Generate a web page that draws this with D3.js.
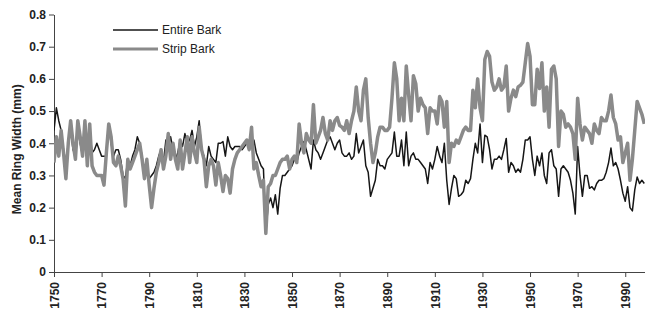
<!DOCTYPE html>
<html>
<head>
<meta charset="utf-8">
<script src="https://cdn.jsdelivr.net/npm/d3@7"></script>
<style>
  html, body { margin: 0; padding: 0; background: #fff; }
  svg { display: block; }
</style>
</head>
<body>
<svg id="chart" width="645" height="314"></svg>
<script>
// ---- Data ----
const startYear = 1750;
const xTickYears = [1750, 1770, 1790, 1810, 1830, 1850, 1870, 1890, 1910, 1930, 1950, 1970, 1990];
const yTickValues = [0, 0.1, 0.2, 0.3, 0.4, 0.5, 0.6, 0.7, 0.8];
const seriesNames = ["Entire Bark", "Strip Bark"];

// Entire Bark, yearly 1750-1998
const entireBark = [
  0.44, 0.51, 0.47, 0.44, 0.38, 0.34, 0.40, 0.44, 0.38, 0.36,
  0.44, 0.40, 0.36, 0.44, 0.36, 0.44, 0.37, 0.38, 0.40, 0.38,
  0.36, 0.36, 0.36, 0.45, 0.40, 0.36, 0.38, 0.38, 0.35, 0.30,
  0.29, 0.35, 0.33, 0.36, 0.38, 0.42, 0.40, 0.36, 0.30, 0.33,
  0.29, 0.30, 0.31, 0.33, 0.36, 0.38, 0.34, 0.41, 0.39, 0.42,
  0.38, 0.35, 0.37, 0.41, 0.39, 0.43, 0.40, 0.41, 0.44, 0.39,
  0.42, 0.47, 0.38, 0.36, 0.33, 0.39, 0.36, 0.35, 0.34, 0.40,
  0.40, 0.405, 0.36, 0.42, 0.39, 0.38, 0.39, 0.39, 0.39, 0.38,
  0.39, 0.40, 0.39, 0.41, 0.41, 0.37, 0.35, 0.33, 0.32, 0.12,
  0.21, 0.23, 0.20, 0.24, 0.18, 0.26, 0.30, 0.30, 0.31, 0.32,
  0.33, 0.35, 0.34, 0.37, 0.39, 0.405, 0.38, 0.35, 0.32, 0.41,
  0.38, 0.37, 0.35, 0.37, 0.39, 0.41, 0.42, 0.40, 0.38, 0.40,
  0.41, 0.37, 0.36, 0.36, 0.37, 0.35, 0.36, 0.43, 0.37, 0.39,
  0.41, 0.33, 0.31, 0.235, 0.26, 0.285, 0.35, 0.33, 0.33, 0.32,
  0.35, 0.36, 0.37, 0.435, 0.36, 0.36, 0.41, 0.33, 0.435, 0.33,
  0.36, 0.37, 0.35, 0.35, 0.34, 0.33, 0.32, 0.275, 0.34, 0.32,
  0.35, 0.39, 0.36, 0.34, 0.40, 0.285, 0.21, 0.26, 0.30, 0.29,
  0.235, 0.24, 0.25, 0.285, 0.275, 0.29, 0.35, 0.40, 0.37, 0.46,
  0.34, 0.425, 0.42, 0.38, 0.32, 0.35, 0.35, 0.36, 0.35, 0.38,
  0.415, 0.31, 0.34, 0.33, 0.31, 0.32, 0.31, 0.35, 0.41, 0.41,
  0.42, 0.35, 0.30, 0.36, 0.33, 0.37, 0.30, 0.275, 0.37, 0.38,
  0.33, 0.32, 0.235, 0.32, 0.33, 0.32, 0.31, 0.285, 0.245, 0.18,
  0.39, 0.30, 0.235, 0.30, 0.30, 0.26, 0.265, 0.255, 0.275, 0.285,
  0.285, 0.29, 0.31, 0.34, 0.385, 0.33, 0.34, 0.32, 0.285, 0.245,
  0.22, 0.265, 0.20, 0.19, 0.255, 0.295, 0.275, 0.285, 0.275
];

// Strip Bark, yearly 1750-1998
const stripBark = [
  0.34, 0.42, 0.36, 0.44, 0.37, 0.29, 0.40, 0.47, 0.40, 0.35,
  0.47, 0.42, 0.36, 0.47, 0.33, 0.46, 0.33, 0.31, 0.30, 0.30,
  0.30, 0.27, 0.37, 0.46, 0.42, 0.34, 0.33, 0.36, 0.33, 0.29,
  0.205, 0.35, 0.32, 0.34, 0.36, 0.38, 0.40, 0.35, 0.29, 0.35,
  0.27, 0.20, 0.26, 0.31, 0.34, 0.38, 0.32, 0.36, 0.43, 0.35,
  0.40, 0.35, 0.32, 0.41, 0.32, 0.37, 0.42, 0.34, 0.42, 0.37,
  0.34, 0.45, 0.38, 0.35, 0.265, 0.33, 0.35, 0.33, 0.27, 0.34,
  0.30, 0.25, 0.30, 0.29, 0.245, 0.32, 0.35, 0.37, 0.38, 0.39,
  0.40, 0.41, 0.38, 0.45, 0.32, 0.34, 0.30, 0.265, 0.285, 0.12,
  0.265, 0.275, 0.30, 0.30, 0.32, 0.34, 0.35, 0.35, 0.36, 0.32,
  0.35, 0.36, 0.34, 0.46, 0.40, 0.37, 0.43, 0.41, 0.40, 0.52,
  0.40, 0.42, 0.44, 0.48, 0.43, 0.41, 0.47, 0.44, 0.47, 0.48,
  0.455, 0.45, 0.44, 0.47, 0.43, 0.47, 0.50, 0.575, 0.50, 0.47,
  0.565, 0.60, 0.48, 0.40, 0.34, 0.37, 0.42, 0.45, 0.45, 0.44,
  0.44, 0.45, 0.54, 0.65, 0.60, 0.47, 0.54, 0.47, 0.64, 0.55,
  0.47, 0.61, 0.585, 0.50, 0.54, 0.52, 0.51, 0.43, 0.51, 0.50,
  0.50, 0.46, 0.545, 0.53, 0.45, 0.53, 0.34, 0.40, 0.39, 0.41,
  0.40, 0.42, 0.44, 0.45, 0.44, 0.44, 0.565, 0.51, 0.60, 0.51,
  0.47, 0.66, 0.685, 0.67, 0.59, 0.565, 0.575, 0.60, 0.565, 0.575,
  0.64, 0.50, 0.54, 0.565, 0.545, 0.575, 0.58, 0.59, 0.65, 0.71,
  0.67, 0.52, 0.52, 0.63, 0.57, 0.65, 0.50, 0.575, 0.45, 0.63,
  0.64, 0.60, 0.39, 0.50, 0.49, 0.45, 0.46, 0.45, 0.43, 0.35,
  0.54, 0.46, 0.41, 0.45, 0.44, 0.43, 0.40, 0.46, 0.44, 0.43,
  0.48, 0.47, 0.47, 0.50, 0.55, 0.48, 0.46, 0.41, 0.42, 0.34,
  0.37, 0.40, 0.285, 0.35, 0.44, 0.53, 0.51, 0.49, 0.46
];

// ---- Drawing ----
const svg = d3.select("#chart");
const W = 645, H = 314;
const x0 = 54, y0 = 272;

const x = d3.scaleLinear().domain([1750, 1998.3]).range([x0, W]);
const y = d3.scaleLinear().domain([0, 0.8]).range([y0, 14.5]);

const font = "Arial, 'Liberation Sans', Helvetica, sans-serif";

// axes
const xAxis = d3.axisBottom(x).tickValues(xTickYears).tickFormat(d3.format("d")).tickSize(5).tickSizeOuter(0);
const gx = svg.append("g").attr("transform", `translate(0,${y0})`).call(xAxis);
gx.select(".domain").attr("stroke", "#444").attr("d", `M${x0},0.5H${W}`);
gx.selectAll(".tick line").attr("stroke", "#444");
gx.selectAll(".tick text")
  .attr("transform", "rotate(-90)")
  .attr("text-anchor", "end")
  .attr("x", -10).attr("y", 0).attr("dy", "0.35em")
  .style("font-family", font).style("font-size", "12px").style("font-weight", "bold")
  .attr("fill", "#222");

const yAxis = d3.axisLeft(y).tickValues(yTickValues)
  .tickFormat(d => d === 0 ? "0" : d3.format(".1f")(d)).tickSize(5).tickSizeOuter(0);
const gy = svg.append("g").attr("transform", `translate(${x0},0)`).call(yAxis);
gy.select(".domain").attr("stroke", "#444");
gy.selectAll(".tick line").attr("stroke", "#444");
gy.selectAll(".tick text")
  .attr("x", -8)
  .style("font-family", font).style("font-size", "12px").style("font-weight", "bold")
  .attr("fill", "#222");

svg.append("text")
  .attr("transform", `translate(17,${(y(0) + y(0.8)) / 2 + 6}) rotate(-90)`)
  .attr("text-anchor", "middle").attr("dy", "0.35em")
  .style("font-family", font).style("font-size", "12px").style("font-weight", "bold")
  .attr("fill", "#222")
  .text("Mean Ring Width (mm)");

// lines
const clip = svg.append("clipPath").attr("id", "plotclip")
  .append("rect").attr("x", x0).attr("y", 0).attr("width", W - x0).attr("height", y0);

const line = d3.line().x((d, i) => x(startYear + i)).y(d => y(d));

const plot = svg.append("g").attr("clip-path", "url(#plotclip)");
plot.append("path").datum(entireBark)
  .attr("fill", "none").attr("stroke", "#161616").attr("stroke-width", 1.5)
  .attr("stroke-linejoin", "round").attr("d", line);
plot.append("path").datum(stripBark)
  .attr("fill", "none").attr("stroke", "#8a8a8a").attr("stroke-width", 3.5)
  .attr("stroke-linejoin", "round").attr("d", line);

// legend
const legendItems = [
  { name: seriesNames[0], color: "#161616", width: 1.5, ly: 30 },
  { name: seriesNames[1], color: "#8a8a8a", width: 3, ly: 49 }
];
const lg = svg.append("g");
legendItems.forEach(it => {
  lg.append("line").attr("x1", 113).attr("x2", 158).attr("y1", it.ly).attr("y2", it.ly)
    .attr("stroke", it.color).attr("stroke-width", it.width);
  lg.append("text").attr("x", 162).attr("y", it.ly).attr("dy", "0.35em")
    .style("font-family", font).style("font-size", "12px")
    .attr("fill", "#222").text(it.name);
});
</script>
</body>
</html>
